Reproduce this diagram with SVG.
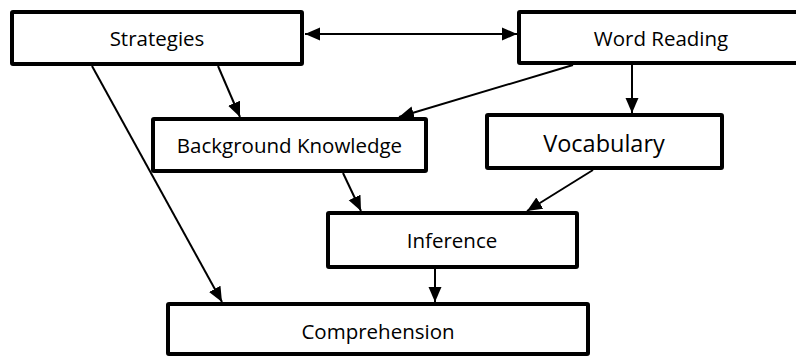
<svg xmlns="http://www.w3.org/2000/svg" width="796" height="358" viewBox="0 0 796 358">
<style>
.box{fill:#fff;stroke:#000;stroke-width:4}
.lbl{font-family:"Open Sans","Noto Sans",sans-serif;font-size:20.5px;fill:#000;text-anchor:middle}
.big{font-size:23.5px}
.edge{stroke:#000;stroke-width:2;fill:none;marker-end:url(#ah)}
</style>
<defs>
<marker id="ah" markerUnits="userSpaceOnUse" markerWidth="15" markerHeight="14" refX="15" refY="6.5" orient="auto-start-reverse" viewBox="0 0 15 13">
<path d="M0,0 L15,6.5 L0,13 z" fill="#000"/>
</marker>
</defs>
<rect width="796" height="358" fill="#fff"/>
<g id="connectors">
<line class="edge" x1="305" y1="34" x2="517" y2="34" marker-start="url(#ah)"/>
<line class="edge" x1="218" y1="66" x2="240" y2="117"/>
<line class="edge" x1="92" y1="66" x2="222" y2="302"/>
<line class="edge" x1="573" y1="65" x2="399" y2="117"/>
<line class="edge" x1="632" y1="65" x2="632" y2="113"/>
<line class="edge" x1="343" y1="173" x2="361" y2="211"/>
<line class="edge" x1="593" y1="170" x2="527" y2="211"/>
<line class="edge" x1="435" y1="269" x2="435" y2="302"/>
</g>
<g id="strategies">
<rect class="box" x="12" y="12" width="290" height="52" rx="1"/>
<text class="lbl" x="157" y="45.5">Strategies</text>
</g>
<g id="word-reading">
<rect class="box" x="519" y="12" width="290" height="51" rx="1"/>
<text class="lbl" x="661" y="45.5">Word Reading</text>
</g>
<g id="background-knowledge">
<rect class="box" x="153" y="119" width="273" height="52" rx="1"/>
<text class="lbl" x="289.5" y="153">Background Knowledge</text>
</g>
<g id="vocabulary">
<rect class="box" x="487" y="115" width="235" height="53" rx="1"/>
<text class="lbl big" x="604" y="151.5">Vocabulary</text>
</g>
<g id="inference">
<rect class="box" x="328" y="213" width="249" height="54" rx="1"/>
<text class="lbl" x="452" y="247.5">Inference</text>
</g>
<g id="comprehension">
<rect class="box" x="168" y="304" width="420" height="50" rx="1"/>
<text class="lbl" x="378" y="338.5">Comprehension</text>
</g>
</svg>
